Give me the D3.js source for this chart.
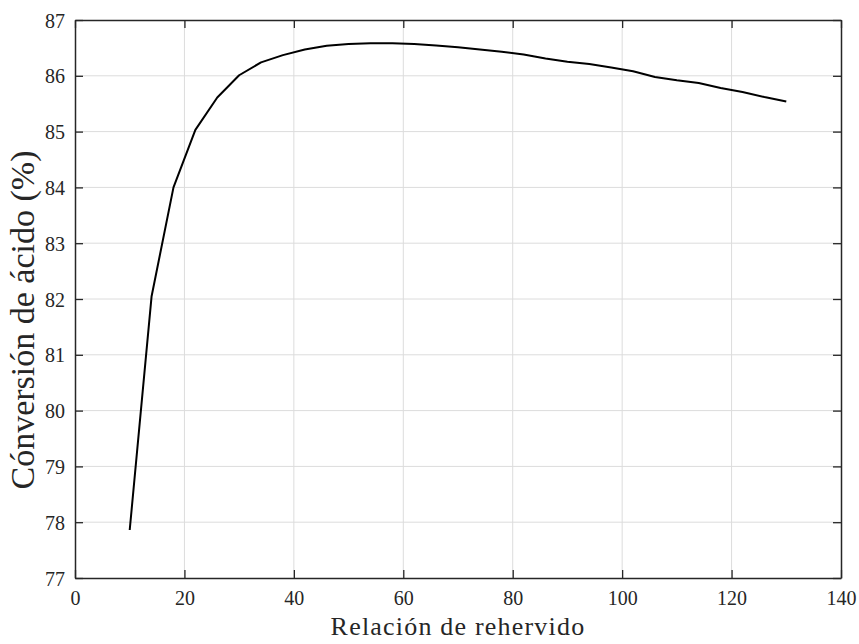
<!DOCTYPE html>
<html>
<head>
<meta charset="utf-8">
<script src="https://cdn.jsdelivr.net/npm/d3@7"></script>
<style>
  body { margin: 0; background: #fff; }
  svg { display: block; }
  svg text { font-family: "Liberation Serif", "Times New Roman", Tinos, "DejaVu Serif", serif; }
</style>
</head>
<body>
<svg id="chart"></svg>
<script>
// Data (reboil ratio vs acid conversion)
const ratio = [10, 14, 18, 22, 26, 30, 34, 38, 42, 46, 50, 54, 58, 62, 66, 70, 74, 78, 82, 86, 90, 94, 98, 102, 106, 110, 114, 118, 122, 126, 130];
const conversion = [77.86, 82.05, 84.0, 85.03, 85.61, 86.01, 86.24, 86.37, 86.47, 86.54, 86.57, 86.585, 86.585, 86.57, 86.545, 86.51, 86.47, 86.43, 86.38, 86.31, 86.25, 86.21, 86.15, 86.08, 85.98, 85.92, 85.87, 85.78, 85.71, 85.62, 85.54];
const xTicks = [0, 20, 40, 60, 80, 100, 120, 140];
const yTicks = [77, 78, 79, 80, 81, 82, 83, 84, 85, 86, 87];

const width = 859, height = 644;
const margin = { top: 20, right: 18, bottom: 66, left: 75 };

const svg = d3.select("#chart")
    .attr("width", width)
    .attr("height", height);

const x = d3.scaleLinear()
    .domain([0, 140])
    .range([margin.left, width - margin.right]);

const y = d3.scaleLinear()
    .domain([77, 87])
    .range([height - margin.bottom, margin.top]);

const pts = ratio.map((r, i) => ({ r: r, c: conversion[i] }));

// Grid lines
svg.append("g")
    .selectAll("line")
    .data(xTicks.slice(1, -1))
    .enter()
    .append("line")
    .attr("x1", d => x(d)).attr("x2", d => x(d))
    .attr("y1", y(77)).attr("y2", y(87))
    .attr("stroke", "#dcdcdc")
    .attr("stroke-width", 1);

svg.append("g")
    .selectAll("line")
    .data(yTicks.slice(1, -1))
    .enter()
    .append("line")
    .attr("x1", x(0)).attr("x2", x(140))
    .attr("y1", d => y(d)).attr("y2", d => y(d))
    .attr("stroke", "#dcdcdc")
    .attr("stroke-width", 1);

const axisColor = "#262626";
const tickLen = 8;

// Bottom axis
const gx = svg.append("g")
    .attr("transform", `translate(0, ${y(77)})`)
    .call(d3.axisBottom(x).tickValues(xTicks).tickSizeInner(-tickLen).tickSizeOuter(0).tickPadding(13));

// Top axis (ticks only)
const gxt = svg.append("g")
    .attr("transform", `translate(0, ${y(87)})`)
    .call(d3.axisTop(x).tickValues(xTicks).tickSizeInner(-tickLen).tickSizeOuter(0).tickFormat(""));

// Left axis
const gy = svg.append("g")
    .attr("transform", `translate(${x(0)}, 0)`)
    .call(d3.axisLeft(y).tickValues(yTicks).tickSizeInner(-tickLen).tickSizeOuter(0).tickPadding(10));

// Right axis (ticks only)
const gyr = svg.append("g")
    .attr("transform", `translate(${x(140)}, 0)`)
    .call(d3.axisRight(y).tickValues(yTicks).tickSizeInner(-tickLen).tickSizeOuter(0).tickFormat(""));

[gx, gxt, gy, gyr].forEach(g => {
    g.attr("font-family", null);
    g.select(".domain").attr("stroke", axisColor).attr("stroke-width", 1.5);
    g.selectAll(".tick line").attr("stroke", axisColor).attr("stroke-width", 1.3);
    g.selectAll(".tick text")
        .attr("fill", "#262626")
        .attr("font-size", "20px");
});
gy.selectAll(".tick text").attr("dy", "0.35em");

// Curve
const line = d3.line()
    .x(d => x(d.r))
    .y(d => y(d.c));

svg.append("path")
    .datum(pts)
    .attr("fill", "none")
    .attr("stroke", "#000")
    .attr("stroke-width", 2)
    .attr("stroke-linejoin", "round")
    .attr("d", line);

// Axis labels
svg.append("text")
    .attr("x", (x(0) + x(140)) / 2)
    .attr("y", 635)
    .attr("text-anchor", "middle")
    .attr("font-size", "26px")
    .attr("letter-spacing", "1.2px")
    .attr("fill", "#262626")
    .text("Relación de rehervido");

svg.append("text")
    .attr("transform", `translate(34, 320) rotate(-90)`)
    .attr("text-anchor", "middle")
    .attr("font-size", "34px")
    .attr("fill", "#262626")
    .text("Cónversión de ácido (%)");
</script>
</body>
</html>
